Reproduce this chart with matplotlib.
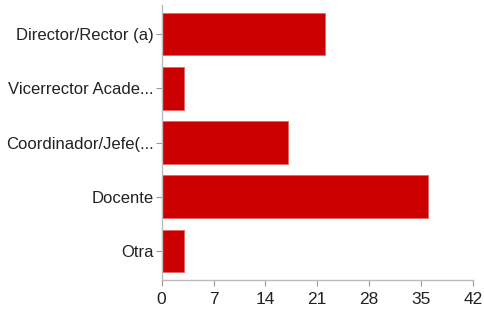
import matplotlib
matplotlib.use("Agg")
import matplotlib.pyplot as plt

categorias = ["Director/Rector (a)", "Vicerrector Acade...", "Coordinador/Jefe(...",
              "Docente", "Otra"]
valores = [22, 3, 17, 36, 3]
ticks_x = [0, 7, 14, 21, 28, 35, 42]

plt.rcParams['font.family'] = ['Liberation Sans', 'DejaVu Sans']

fig = plt.figure(figsize=(4.84, 3.11), dpi=100)
ax = fig.add_axes([0.334, 0.0997, 0.643, 0.884])

pos = list(range(len(categorias)))
ax.barh(pos, valores, height=0.79, color="#cc0000", edgecolor="#e06666", linewidth=0.6)

ax.set_yticks(pos)
ax.set_yticklabels(categorias, fontsize=12, color="#222222")
ax.set_xticks(ticks_x)
ax.set_xticklabels([str(t) for t in ticks_x], fontsize=12.5, color="#222222")
ax.set_xlim(0, 42)
ax.set_ylim(4.535, -0.535)

for s in ["top", "right"]:
    ax.spines[s].set_visible(False)
for s in ["left", "bottom"]:
    ax.spines[s].set_color("#bbbbbb")
    ax.spines[s].set_linewidth(1)
ax.tick_params(axis="both", colors="#999999", length=4, width=0.8, labelcolor="#222222")
ax.tick_params(axis="y", pad=2)
ax.tick_params(axis="x", pad=5)

plt.savefig("out.png", dpi=100)
